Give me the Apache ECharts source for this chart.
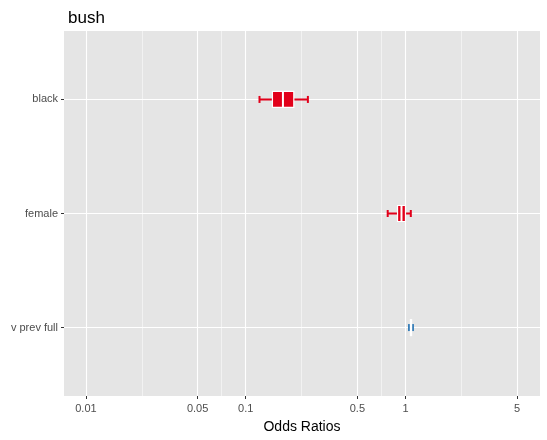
<!DOCTYPE html>
<html>
<head>
<meta charset="utf-8">
<script src="https://cdn.jsdelivr.net/npm/echarts@6/dist/echarts.min.js"></script>
<style>
  html, body { margin: 0; padding: 0; background: #fff; }
  #chart { width: 547px; height: 440px; }
</style>
</head>
<body>
<div id="chart"></div>
<script>
// odds ratios
var categories = ['black', 'female', 'v prev full'];
var estimates = [0.171, 0.944, 1.083];
var ciLow = [0.122, 0.774, 1.052];
var ciHigh = [0.245, 1.08, 1.114];
var boxLow = [0.147, 0.892, 1.074];
var boxHigh = [0.200, 1.0, 1.092];
var xTicks = [0.01, 0.05, 0.1, 0.5, 1, 5];
var xMinorTicks = [0.02236, 0.07071, 0.2236, 0.7071, 2.236];

var RED = '#E2001A', BLUE = '#377EB8';
var rowColors = [RED, RED, BLUE];

var rows = categories.map(function (c, i) {
    return [i + 1, ciLow[i], boxLow[i], estimates[i], boxHigh[i], ciHigh[i]];
});

var myChart = echarts.init(document.getElementById('chart'));
var option = {
    animation: false,
    title: {
        text: 'bush',
        left: 63,
        top: 5,
        textStyle: { fontFamily: 'Liberation Sans', fontWeight: 'normal', fontSize: 17, color: '#000' }
    },
    grid: { left: 64, right: 7, top: 31, bottom: 44, backgroundColor: '#E5E5E5', show: true, borderWidth: 0 },
    xAxis: [{
        type: 'log',
        logBase: 10,
        min: 0.00729,
        max: 6.95,
        name: 'Odds Ratios',
        nameLocation: 'middle',
        nameGap: 24,
        nameTextStyle: { fontFamily: 'Liberation Sans', fontSize: 14, color: '#000' },
        axisLine: { show: false },
        axisTick: { show: true, length: 3, lineStyle: { color: '#333', width: 1 }, customValues: xTicks },
        axisLabel: {
            customValues: xTicks,
            margin: 7,
            fontFamily: 'Liberation Sans', fontSize: 11, color: '#4D4D4D',
            formatter: function (v) { return String(+v.toPrecision(3)); }
        },
        splitLine: { show: true, lineStyle: { color: '#fff', width: 1.1 } }
    }, {
        type: 'log',
        logBase: 10,
        min: 0.00729,
        max: 6.95,
        position: 'bottom',
        axisLine: { show: false },
        axisTick: { show: false, customValues: xMinorTicks },
        axisLabel: { show: false, customValues: xMinorTicks },
        splitLine: { show: true, lineStyle: { color: '#fff', width: 0.5 } }
    }],
    yAxis: {
        type: 'value',
        min: 0.4,
        max: 3.6,
        inverse: true,
        axisLine: { show: false },
        axisTick: { show: true, length: 3, lineStyle: { color: '#333', width: 1 }, customValues: [1, 2, 3] },
        axisLabel: {
            customValues: [1, 2, 3],
            margin: 6,
            fontFamily: 'Liberation Sans', fontSize: 11, color: '#4D4D4D',
            formatter: function (v) { return categories[Math.round(v) - 1] || ''; }
        },
        splitLine: { show: true, lineStyle: { color: '#fff', width: 1.1 } }
    },
    series: [{
        type: 'custom',
        xAxisIndex: 0,
        data: rows,
        encode: { x: [1, 2, 3, 4, 5], y: 0 },
        renderItem: function (params, api) {
            var y = api.value(0);
            var lo = api.coord([api.value(1), y]);
            var bl = api.coord([api.value(2), y]);
            var est = api.coord([api.value(3), y]);
            var bh = api.coord([api.value(4), y]);
            var hi = api.coord([api.value(5), y]);
            var col = rowColors[params.dataIndex];
            var capH = 3.5, boxH = 8;
            return {
                type: 'group',
                children: [
                    { type: 'line', shape: { x1: lo[0], y1: lo[1], x2: hi[0], y2: hi[1] }, style: { stroke: col, lineWidth: 2 } },
                    { type: 'line', shape: { x1: lo[0], y1: lo[1] - capH, x2: lo[0], y2: lo[1] + capH }, style: { stroke: col, lineWidth: 2 } },
                    { type: 'line', shape: { x1: hi[0], y1: hi[1] - capH, x2: hi[0], y2: hi[1] + capH }, style: { stroke: col, lineWidth: 2 } },
                    { type: 'rect', shape: { x: bl[0], y: bl[1] - boxH, width: bh[0] - bl[0], height: boxH * 2 }, style: { fill: col, stroke: '#fff', lineWidth: 1.2 } },
                    { type: 'line', shape: { x1: est[0], y1: est[1] - boxH, x2: est[0], y2: est[1] + boxH }, style: { stroke: '#fff', lineWidth: 2 } }
                ]
            };
        }
    }]
};
myChart.setOption(option);
</script>
</body>
</html>
